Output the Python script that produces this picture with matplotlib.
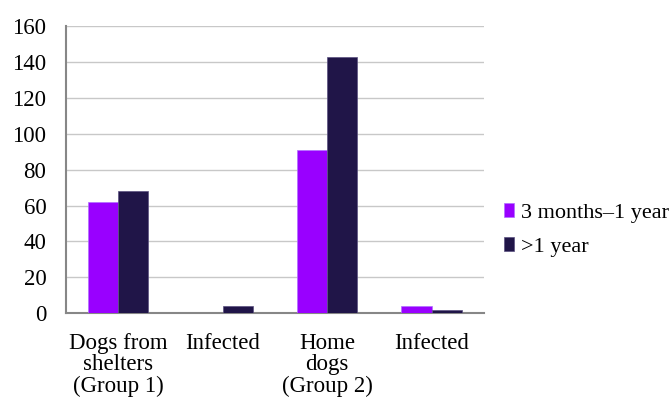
import matplotlib.pyplot as plt
import numpy as np

categories = ['Dogs from\nshelters\n(Group 1)', 'Infected', 'Home\ndogs\n(Group 2)', 'Infected']
young = [62, 0, 91, 4]
old = [68, 4, 143, 2]
series_names = ['3 months\u20131 year', '>1 year']

plt.rcParams['font.family'] = ['Liberation Serif', 'DejaVu Serif']

fig = plt.figure(figsize=(6.72, 4.03), dpi=100)
ax = fig.add_axes([0.098, 0.223, 0.622, 0.712])

x = np.arange(len(categories))
w = 0.29
ax.bar(x - w / 2, young, w, color='#9900FF', edgecolor='#b070ff', linewidth=0.5, label=series_names[0], zorder=3)
ax.bar(x + w / 2, old, w, color='#201548', edgecolor='#5a5080', linewidth=0.5, label=series_names[1], zorder=3)

ax.set_xlim(-0.5, 3.5)
ax.set_ylim(0, 160)
ax.set_yticks(range(0, 161, 20))
ax.yaxis.grid(True, color='#c8c8c8', linewidth=1, zorder=0)
ax.set_xticks(x)
ax.set_xticklabels(categories, fontsize=16.5, linespacing=1.05)
ax.tick_params(axis='y', labelsize=16.5, length=0, pad=14)
ax.tick_params(axis='x', length=0, pad=14)
for s in ['top', 'right']:
    ax.spines[s].set_visible(False)
for s in ['left', 'bottom']:
    ax.spines[s].set_color('#878787')
    ax.spines[s].set_linewidth(1.5)

ax.legend(loc='center left', bbox_to_anchor=(1.0, 0.29), frameon=False, fontsize=16,
          handlelength=0.45, handleheight=0.6, handletextpad=0.3, labelspacing=0.65)

fig.savefig('out.png', dpi=100)
